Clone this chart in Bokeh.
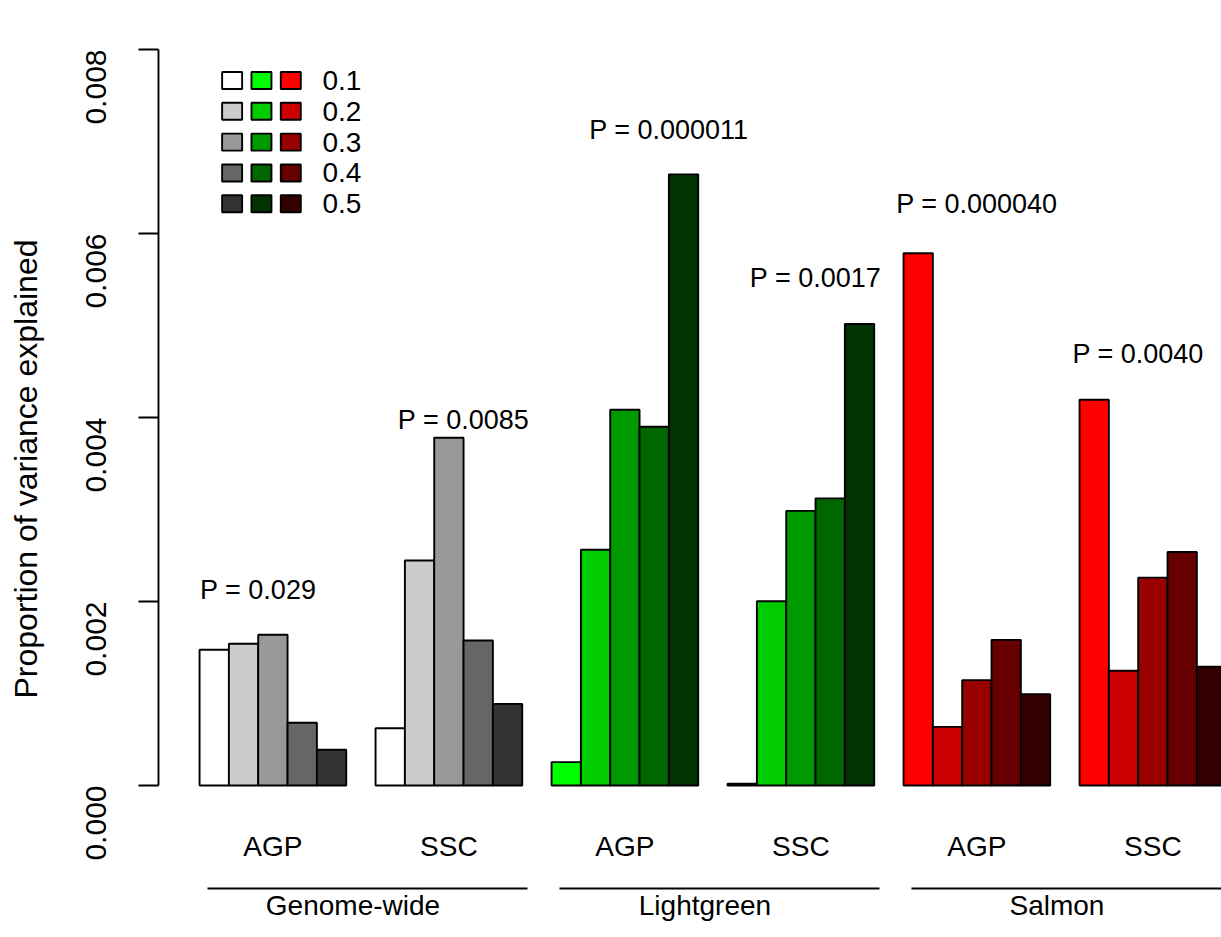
import math
from bokeh.plotting import figure
from bokeh.models import Range1d, LinearAxis, FixedTicker, NumeralTickFormatter, ColumnDataSource
from bokeh.core.properties import value
from bokeh.embed import file_html
from bokeh.resources import INLINE

# ---------------- data ----------------
regions = ["Genome-wide", "Lightgreen", "Salmon"]
traits = ["AGP", "SSC"]
thresholds = ["0.1", "0.2", "0.3", "0.4", "0.5"]

genome_wide_agp = [0.001475, 0.001540, 0.001638, 0.000682, 0.000388]
genome_wide_ssc = [0.000623, 0.002446, 0.003780, 0.001576, 0.000887]
lightgreen_agp = [0.000254, 0.002562, 0.004084, 0.003899, 0.006643]
lightgreen_ssc = [0.000020, 0.002003, 0.002985, 0.003121, 0.005016]
salmon_agp = [0.005786, 0.000637, 0.001145, 0.001583, 0.000993]
salmon_ssc = [0.004193, 0.001248, 0.002259, 0.002538, 0.001290]

p_labels = ["P = 0.029", "P = 0.0085", "P = 0.000011", "P = 0.0017", "P = 0.000040", "P = 0.0040"]
p_label_x = [2.0, 9.0, 16.0, 21.0, 26.5, 32.0]
p_label_y = [0.00212, 0.00397, 0.00712, 0.00552, 0.00632, 0.00469]

y_ticks = [0.000, 0.002, 0.004, 0.006, 0.008]

grey_colors = ["#FFFFFF", "#CCCCCC", "#999999", "#666666", "#333333"]
green_colors = ["#00FF00", "#00CC00", "#009900", "#006600", "#003300"]
red_colors = ["#FF0000", "#CC0000", "#990000", "#660000", "#330000"]

# ---------------- layout constants ----------------
FONT = "Liberation Sans"
N = len(thresholds)
STEP = N + 1
LW = 1.9

series = [
    (genome_wide_agp, grey_colors),
    (genome_wide_ssc, grey_colors),
    (lightgreen_agp, green_colors),
    (lightgreen_ssc, green_colors),
    (salmon_agp, red_colors),
    (salmon_ssc, red_colors),
]

p = figure(
    width=1221, height=937,
    x_range=Range1d(-1.4, 34.84),
    y_range=Range1d(-0.0016522, 0.0085326),
    x_axis_type=None, y_axis_type=None,
    output_backend="svg", toolbar_location=None,
    min_border_left=158, min_border_right=0, min_border_top=0, min_border_bottom=0,
    outline_line_color=None,
)

for g, (vals, cols) in enumerate(series):
    xs = [g * STEP + i + 0.5 for i in range(N)]
    src = ColumnDataSource(dict(x=xs, top=vals, color=cols))
    p.vbar(x="x", top="top", bottom=0, width=1, fill_color="color",
           line_color="black", line_width=LW, source=src)

# y axis
yaxis = LinearAxis(
    bounds=(0, 0.008),
    ticker=FixedTicker(ticks=y_ticks, minor_ticks=[]),
    formatter=NumeralTickFormatter(format="0.000"),
    axis_label="Proportion of variance explained",
)
yaxis.major_label_orientation = math.pi / 2
yaxis.axis_line_width = LW
yaxis.axis_line_color = "black"
yaxis.major_tick_line_width = LW
yaxis.major_tick_line_color = "black"
yaxis.major_tick_out = 20
yaxis.major_tick_in = 0
yaxis.minor_tick_out = 0
yaxis.minor_tick_in = 0
yaxis.major_label_standoff = 42
yaxis.major_label_text_font = FONT
yaxis.major_label_text_font_size = "30px"
yaxis.major_label_text_color = "black"
yaxis.axis_label_text_font = FONT
yaxis.axis_label_text_font_size = "32px"
yaxis.axis_label_text_font_style = "normal"
yaxis.axis_label_text_color = "black"
yaxis.axis_label_standoff = 30
p.add_layout(yaxis, "left")

# P-value labels
p.text(x=p_label_x, y=p_label_y, text=p_labels, text_align="center", text_baseline="middle",
       text_font=value(FONT), text_font_size="27px", text_color="black")

# trait labels under each bar group
cat_x = [g * STEP + N / 2 for g in range(len(series))]
cat_text = [t for r in regions for t in traits]
p.text(x=cat_x, y=[-0.00066] * len(cat_x), text=cat_text, text_align="center", text_baseline="middle",
       text_font=value(FONT), text_font_size="28px", text_color="black")

# region lines and names
reg_x0 = [2 * r * STEP + 0.27 for r in range(len(regions))]
reg_x1 = [2 * r * STEP + 2 * STEP - 0.82 for r in range(len(regions))]
p.segment(x0=reg_x0, x1=reg_x1, y0=[-0.00112] * 3, y1=[-0.00112] * 3, line_color="black", line_width=LW)
reg_cx = [2 * r * STEP + (2 * STEP - 1) / 2 - 0.27 for r in range(len(regions))]
p.text(x=reg_cx, y=[-0.00130] * 3, text=regions, text_align="center", text_baseline="middle",
       text_font=value(FONT), text_font_size="28px", text_color="black")

# legend (three colour columns, labels on the right)
leg_top = 0.007663
leg_step = 0.000335
leg_y = [leg_top - k * leg_step for k in range(N)]
for c, cols in enumerate([grey_colors, green_colors, red_colors]):
    p.rect(x=[1.11 + c] * N, y=leg_y, width=20, height=17, width_units="screen", height_units="screen",
           fill_color=cols, line_color="black", line_width=LW)
p.text(x=[4.19] * N, y=leg_y, text=thresholds, text_align="left", text_baseline="middle",
       text_font=value(FONT), text_font_size="28px", text_color="black")

open("out.html", "w").write(file_html(p, INLINE))
